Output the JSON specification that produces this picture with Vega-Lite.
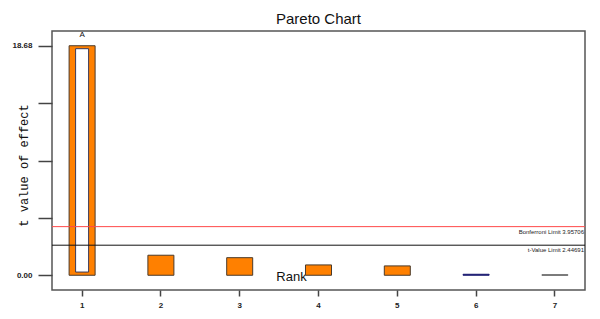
{
  "$schema": "https://vega.github.io/schema/vega-lite/v6.json",
  "width": 533,
  "height": 259,
  "autosize": {"type": "none"},
  "padding": {"left": 52, "top": 31, "right": 15, "bottom": 29},
  "background": "white",
  "title": {"text": "Pareto Chart", "font": "Liberation Sans", "fontSize": 15, "fontWeight": "normal", "color": "#111", "offset": 4, "anchor": "middle"},
  "config": {
    "view": {"stroke": "#555", "strokeWidth": 1.5},
    "axis": {"grid": false, "domain": false, "labelFont": "Liberation Sans", "labelFontSize": 8, "labelFontWeight": "bold", "labelColor": "#222", "tickColor": "#444", "tickWidth": 1.5}
  },
  "datasets": {
    "effects": [
      {"rank": "1", "t": 18.68, "term": "A", "effect": "positive"},
      {"rank": "2", "t": 1.63, "term": "", "effect": "positive"},
      {"rank": "3", "t": 1.43, "term": "", "effect": "positive"},
      {"rank": "4", "t": 0.84, "term": "", "effect": "positive"},
      {"rank": "5", "t": 0.76, "term": "", "effect": "positive"},
      {"rank": "6", "t": 0.08, "term": "", "effect": "negative"},
      {"rank": "7", "t": 0.04, "term": "", "effect": "small"}
    ],
    "inner": [
      {"rank": "1", "lo": 0.26, "hi": 18.44}
    ],
    "limits": [
      {"name": "Bonferroni Limit 3.95706", "limit": 3.95706, "kind": "bonferroni"},
      {"name": "t-Value Limit 2.44691", "limit": 2.44691, "kind": "tvalue"}
    ]
  },
  "encoding": {
    "x": {
      "field": "rank", "type": "ordinal",
      "scale": {"domain": ["1","2","3","4","5","6","7"], "paddingInner": 0.67, "paddingOuter": 0.217},
      "axis": {"title": "Rank", "titleFont": "Liberation Sans", "titleFontSize": 13, "titleFontWeight": "normal", "titleColor": "#111", "titleX": 239, "titleY": -10, "titleBaseline": "alphabetic", "titleAlign": "center", "labelAngle": 0, "tickSize": 6, "labelPadding": 5}
    }
  },
  "layer": [
    {
      "data": {"name": "effects"},
      "mark": {"type": "bar", "stroke": "#4a3a2a", "strokeWidth": 1},
      "encoding": {
        "y": {
          "field": "t", "type": "quantitative",
          "scale": {"domain": [-1.2, 19.88], "nice": false, "zero": false},
          "axis": {"values": [0, 4.67, 9.34, 14.01, 18.68], "labelExpr": "datum.value == 0 || datum.value == 18.68 ? format(datum.value, '.2f') : ''", "tickSize": 14, "labelPadding": 6, "title": "t value of effect", "titleFont": "Liberation Mono", "titleFontSize": 12, "titleFontWeight": "normal", "titleColor": "#111", "titleX": -29, "titleY": 134, "titleAngle": -90, "titleBaseline": "middle", "titleAlign": "center"}
        },
        "fill": {"field": "effect", "type": "nominal", "scale": {"domain": ["positive", "negative", "small"], "range": ["#FF8000", "#1a1a70", "#777777"]}, "legend": null},
        "stroke": {"field": "effect", "type": "nominal", "scale": {"domain": ["positive", "negative", "small"], "range": ["#4a3a2a", "#1a1a70", "#666666"]}, "legend": null}
      }
    },
    {
      "data": {"name": "inner"},
      "mark": {"type": "bar", "fill": "white", "stroke": "#3a3a5a", "strokeWidth": 1, "width": {"band": 0.5}},
      "encoding": {
        "y": {"field": "lo", "type": "quantitative"},
        "y2": {"field": "hi"}
      }
    },
    {
      "data": {"name": "effects"},
      "mark": {"type": "text", "font": "Liberation Sans", "fontSize": 8, "baseline": "middle", "dy": -11, "color": "#111"},
      "encoding": {
        "y": {"field": "t", "type": "quantitative"},
        "text": {"field": "term"}
      }
    },
    {
      "data": {"name": "limits"},
      "mark": {"type": "rule", "strokeWidth": 1},
      "encoding": {
        "x": null,
        "y": {"field": "limit", "type": "quantitative"},
        "color": {"field": "kind", "type": "nominal", "scale": {"domain": ["bonferroni", "tvalue"], "range": ["#FF4848", "#111111"]}, "legend": null}
      }
    },
    {
      "data": {"name": "limits"},
      "mark": {"type": "text", "font": "Liberation Sans", "fontSize": 6, "align": "right", "baseline": "top", "dy": 2, "dx": -1, "color": "#222"},
      "encoding": {
        "x": {"value": "width"},
        "y": {"field": "limit", "type": "quantitative"},
        "text": {"field": "name"}
      }
    }
  ]
}
